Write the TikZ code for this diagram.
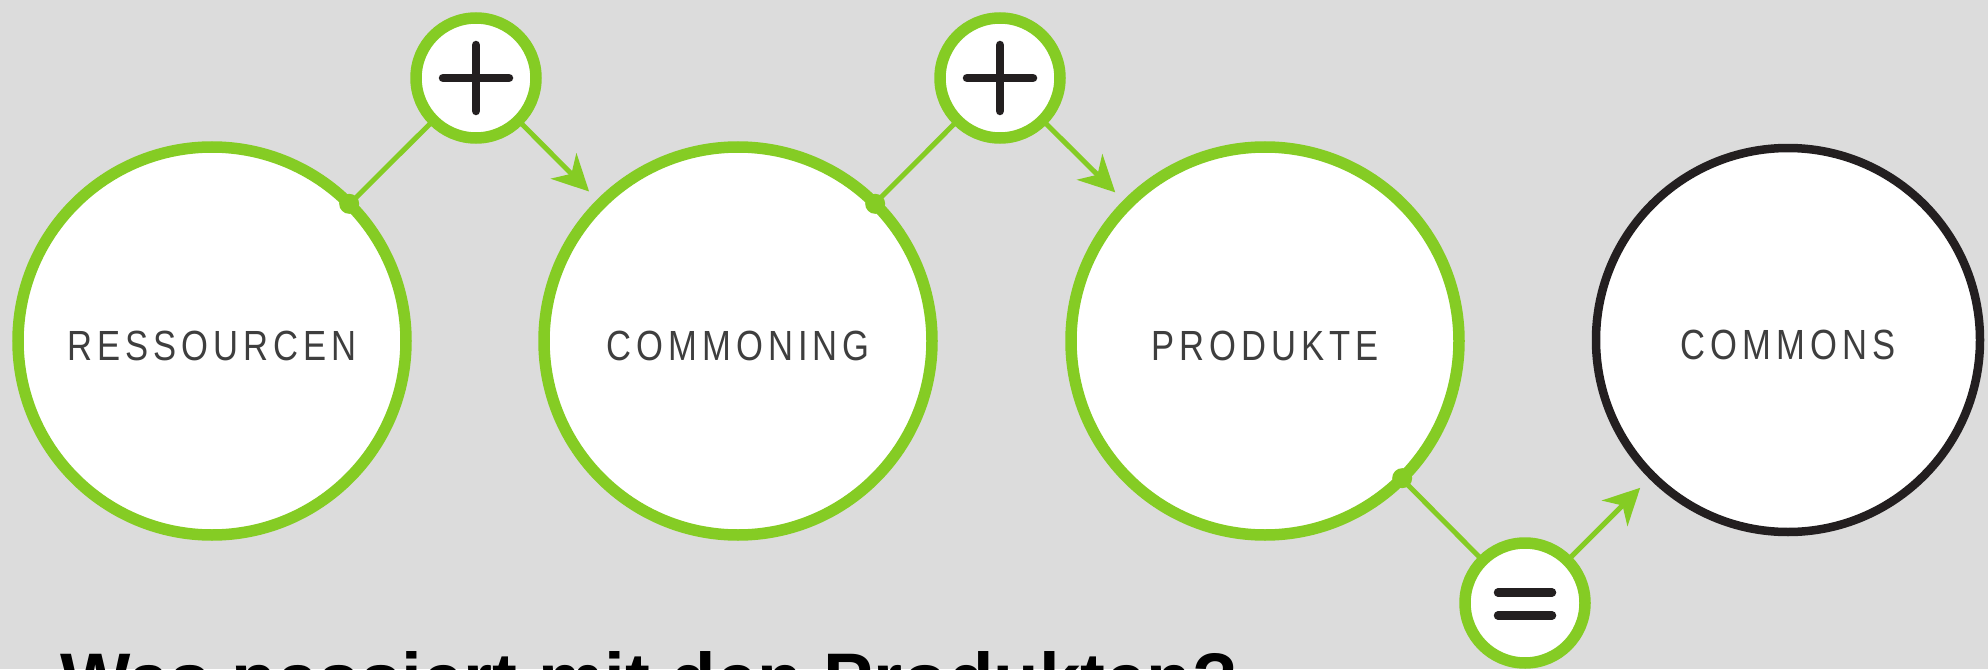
\documentclass[tikz,border=0pt]{standalone}
\usepackage{fontspec}
\usepackage{tkz-graph}
\usetikzlibrary{arrows.meta}

\newfontfamily\circfont[FakeStretch=0.82,LetterSpace=12]{Liberation Sans}
\newfontfamily\headfont{Liberation Sans}

\definecolor{leaf}{RGB}{133,204,36}
\definecolor{paper}{RGB}{220,220,220}
\definecolor{ink}{RGB}{35,31,32}
\definecolor{caption}{RGB}{62,62,62}

\begin{document}
\begin{tikzpicture}
		
		\fill[paper] (0,0) rectangle (19.88,6.69);
		\useasboundingbox (0,0) rectangle (19.88,6.69);
		
		\tikzset{VertexStyle/.style = {draw = leaf, fill = white, shape = circle, line width = 0.115cm,
				minimum size = 3.88cm, inner sep = 0pt, text = caption, text height = 0.38cm, text depth = 0pt,
				font = \circfont\fontsize{12}{14}\selectfont}}
		\Vertex[x=2.12, y=3.28, L=RESSOURCEN]{R}
		\Vertex[x=7.38, y=3.28, L=COMMONING]{C}
		\Vertex[x=12.65, y=3.28, L=PRODUKTE]{P}
		
		\tikzset{VertexStyle/.style = {draw = ink, fill = white, shape = circle, line width = 0.085cm,
				minimum size = 3.84cm, inner sep = 0pt, text = caption, text height = 0.38cm, text depth = 0pt,
				font = \circfont\fontsize{12}{14}\selectfont}}
		\Vertex[x=17.88, y=3.29, L=COMMONS]{K}
		
		\tikzset{VertexStyle/.style = {draw = leaf, fill = white, shape = circle, line width = 0.115cm,
				minimum size = 1.2cm, inner sep = 0pt}}
		\Vertex[x=4.76, y=5.91, NoLabel]{P1}
		\Vertex[x=10.00, y=5.91, NoLabel]{P2}
		\Vertex[x=15.25, y=0.66, NoLabel]{EQ}
		
		\tikzset{LabelStyle/.style = {fill = none}}
		\tikzset{EdgeStyle/.style = {draw = leaf, line width = 0.05cm}}
		\Edge(R)(P1)
		\Edge(C)(P2)
		\Edge(P)(EQ)
		\fill[leaf] (R.45) circle (0.1cm);
		\fill[leaf] (C.45) circle (0.1cm);
		\fill[leaf] (P.-45) circle (0.1cm);
		
		\tikzset{>={Stealth[length=0.36cm, width=0.36cm, inset=0.11cm]}} % barbed arrowheads
		\tikzset{EdgeStyle/.style = {->, draw = leaf, fill = leaf, line width = 0.05cm, shorten > = 0.17cm}}
		\Edge(P1)(C)
		\Edge(P2)(P)
		\Edge(EQ)(K)
		
		% plus and equals signs
		\tikzset{sign/.style = {draw = ink, line width = 0.085cm, line cap = round}}
		\draw[sign] ([xshift=-0.33cm]P1.center) -- ([xshift=0.33cm]P1.center);
		\draw[sign] ([yshift=-0.33cm]P1.center) -- ([yshift=0.33cm]P1.center);
		\draw[sign] ([xshift=-0.33cm]P2.center) -- ([xshift=0.33cm]P2.center);
		\draw[sign] ([yshift=-0.33cm]P2.center) -- ([yshift=0.33cm]P2.center);
		\draw[sign] ([shift={(-0.27cm,0.105cm)}]EQ.center) -- ([shift={(0.27cm,0.105cm)}]EQ.center);
		\draw[sign] ([shift={(-0.27cm,-0.125cm)}]EQ.center) -- ([shift={(0.27cm,-0.125cm)}]EQ.center);
		
		\node[anchor = base west, inner sep = 0pt, font = \headfont\bfseries\fontsize{21.2}{25}\selectfont] (Q)
				at (0.60,-0.36) {Was passiert mit den Produkten?};
		
\end{tikzpicture}
\end{document}
